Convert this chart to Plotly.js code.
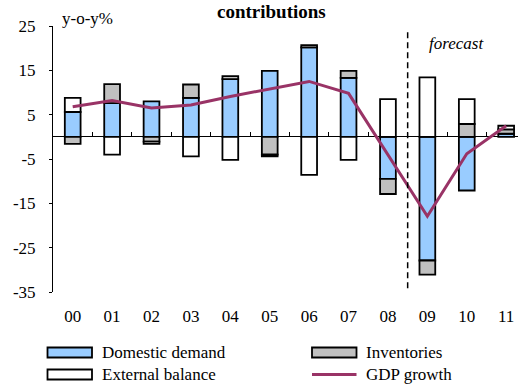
<!DOCTYPE html>
<html>
<head>
<meta charset="utf-8">
<script src="https://cdn.plot.ly/plotly-3.0.1.min.js"></script>
<style>html,body{margin:0;padding:0;background:#fff;overflow:hidden}#chart{width:518px;height:385px}</style>
</head>
<body>
<div id="chart"></div>
<script>
// ---- data ----
const years = ["00","01","02","03","04","05","06","07","08","09","10","11"];
const domesticDemand = [5.6, 7.6, 8.0, 8.8, 13.0, 14.9, 20.2, 13.3, -9.5, -27.9, -12.1, 0.7];
const inventories    = [-1.6, 4.3, -1.1, 3.0, 0.7, -4.0, 0.5, 1.6, -3.4, -3.2, 2.9, 1.0];
const externalBalance= [3.2, -4.0, -0.5, -4.4, -5.2, -0.4, -8.6, -5.2, 8.5, 13.4, 5.6, 0.8];
const gdpGrowth      = [6.8, 8.2, 6.5, 7.2, 9.1, 10.8, 12.5, 9.8, -4.0, -17.9, -3.8, 2.5];
const yTickVals = [25, 15, 5, -5, -15, -25, -35];
const yTickText = ["25", "15", "5", "-5", "-15", "-25", "-35"];
const seriesNames = ["Domestic demand", "Inventories", "External balance", "GDP growth"];
const forecastBoundary = 8.5;

// ---- styling ----
const FONT = "Liberation Serif, Times New Roman, serif";
const C_DD = "#99CCFF", C_INV = "#C0C0C0", C_EXT = "#FFFFFF", C_GDP = "#993366";
const W = 518, H = 385, ML = 53, MR = 0, MT = 26, MB = 93;
const PW = W - ML - MR, PH = H - MT - MB;
const px = x => (x - ML) / PW;            // pixel -> paper x
const py = y => (H - MB - y) / PH;        // pixel -> paper y

const barLine = {color: "#000", width: 1.8};
const traces = [
  {type: "bar", name: seriesNames[0], x: years, y: domesticDemand, width: 0.4,
   marker: {color: C_DD, line: barLine}, showlegend: false, hoverinfo: "skip"},
  {type: "bar", name: seriesNames[1], x: years, y: inventories, width: 0.4,
   marker: {color: C_INV, line: barLine}, showlegend: false, hoverinfo: "skip"},
  {type: "bar", name: seriesNames[2], x: years, y: externalBalance, width: 0.4,
   marker: {color: C_EXT, line: barLine}, showlegend: false, hoverinfo: "skip"},
  {type: "scatter", mode: "lines", name: seriesNames[3], x: years, y: gdpGrowth,
   xaxis: "x2", line: {color: C_GDP, width: 3}, showlegend: false, hoverinfo: "skip"}
];

// legend built from shapes + annotations
const row1 = 352.5, row2 = 374.5, col1 = [47.5, 92, 100], col2 = [312, 356.5, 364];
const shapes = [
  {type: "line", xref: "x", yref: "y", x0: forecastBoundary, x1: forecastBoundary, y0: 23.6, y1: -34.5,
   line: {color: "#000", width: 1.5, dash: "6px,4px"}},
  {type: "rect", xref: "paper", yref: "paper", x0: px(col1[0]), x1: px(col1[1]), y0: py(row1 + 5), y1: py(row1 - 5),
   fillcolor: C_DD, line: {color: "#000", width: 1.8}},
  {type: "rect", xref: "paper", yref: "paper", x0: px(col2[0]), x1: px(col2[1]), y0: py(row1 + 5), y1: py(row1 - 5),
   fillcolor: C_INV, line: {color: "#000", width: 1.8}},
  {type: "rect", xref: "paper", yref: "paper", x0: px(col1[0]), x1: px(col1[1]), y0: py(row2 + 5), y1: py(row2 - 5),
   fillcolor: C_EXT, line: {color: "#000", width: 1.8}},
  {type: "line", xref: "paper", yref: "paper", x0: px(col2[0]), x1: px(col2[1]), y0: py(row2), y1: py(row2),
   line: {color: C_GDP, width: 3}}
];
const legText = (t, x, y) => ({text: t, xref: "paper", yref: "paper", x: px(x), y: py(y),
  xanchor: "left", yanchor: "middle", showarrow: false, font: {family: FONT, size: 17, color: "#000"}});
const annotations = [
  legText(seriesNames[0], col1[2], row1),
  legText(seriesNames[1], col2[2], row1),
  legText(seriesNames[2], col1[2], row2),
  legText(seriesNames[3], col2[2], row2),
  {text: "<b>contributions</b>", xref: "paper", yref: "paper", x: px(271), y: py(0), xanchor: "center", yanchor: "top",
   showarrow: false, borderpad: 0, font: {family: FONT, size: 19, color: "#000"}},
  {text: "y-o-y%", xref: "paper", yref: "paper", x: px(60), y: py(19), xanchor: "left", yanchor: "middle",
   showarrow: false, font: {family: FONT, size: 17, color: "#000"}},
  {text: "<i>forecast</i>", xref: "paper", yref: "paper", x: px(427), y: py(43), xanchor: "left", yanchor: "middle",
   showarrow: false, font: {family: FONT, size: 17, color: "#000"}}
];

const layout = {
  width: W, height: H,
  margin: {l: ML, r: MR, t: MT, b: MB, pad: 0},
  paper_bgcolor: "#fff", plot_bgcolor: "#fff",
  barmode: "relative", bargap: 0.6,
  font: {family: FONT, size: 17, color: "#000"},
  xaxis: {type: "category", range: [-0.5, 11.3], showline: false, showgrid: false, zeroline: false,
          ticks: "", ticklabelstandoff: 12, tickfont: {family: FONT, size: 17}},
  xaxis2: {type: "category", overlaying: "x", matches: "x", anchor: "free", position: 35 / 60,
           showline: false, showgrid: false, zeroline: false, showticklabels: false,
           ticks: "inside", tickson: "boundaries", ticklen: 5, tickcolor: "#000", tickwidth: 1},
  yaxis: {range: [-35, 25], tickvals: yTickVals, ticktext: yTickText, showgrid: false,
          showline: true, linecolor: "#000", linewidth: 1, ticks: "outside", ticklen: 3, tickcolor: "#000",
          zeroline: true, zerolinecolor: "#000", zerolinewidth: 1, ticklabelstandoff: 10,
          tickfont: {family: FONT, size: 17}},
  shapes: shapes,
  annotations: annotations,
  showlegend: false
};

Plotly.newPlot("chart", traces, layout, {displayModeBar: false, staticPlot: true});
</script>
</body>
</html>
